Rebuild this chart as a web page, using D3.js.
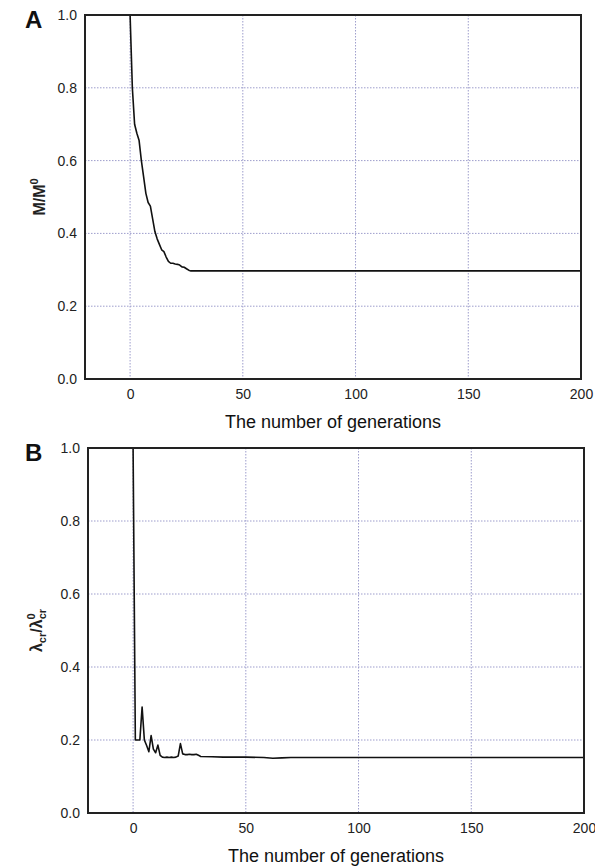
<!DOCTYPE html>
<html>
<head>
<meta charset="utf-8">
<script src="https://cdn.jsdelivr.net/npm/d3@7"></script>
<style>
  html, body { margin: 0; padding: 0; background: #fff; }
  svg { display: block; font-family: "Liberation Sans", Arial, sans-serif; }
</style>
</head>
<body>
<svg id="chart" width="595" height="868"></svg>
<script>
// ---- data ----
const xTicks = [0, 50, 100, 150, 200];
const yTicks = [0.0, 0.2, 0.4, 0.6, 0.8, 1.0];
const xDomain = [-20, 200];
const yDomain = [0, 1];
const xTitle = "The number of generations";

// Panel A: M/M0 vs generations
const genA = [0, 1, 2, 3, 4, 5, 6, 7, 8, 9, 10, 11, 12, 13, 14, 15, 16, 17, 18, 19, 20,
              21, 22, 23, 24, 25, 26, 27, 30, 40, 60, 100, 150, 200];
const valA = [1.0, 0.80, 0.70, 0.675, 0.655, 0.60, 0.555, 0.51, 0.485, 0.475, 0.44,
              0.405, 0.385, 0.37, 0.355, 0.35, 0.335, 0.323, 0.318, 0.318, 0.316,
              0.315, 0.313, 0.308, 0.307, 0.303, 0.299, 0.297, 0.297, 0.297, 0.297, 0.297, 0.297, 0.297];

// Panel B: lambda_cr / lambda0_cr vs generations
const genB = [0, 1, 2, 3, 4, 5, 6, 7, 8, 9, 10, 11, 12, 13, 14, 15, 16, 17, 18, 19, 20,
              21, 22, 23, 24, 25, 26, 27, 28, 29, 30, 35, 40, 50, 58, 62, 66, 70, 80, 100, 150, 200];
const valB = [1.0, 0.20, 0.20, 0.20, 0.29, 0.20, 0.185, 0.168, 0.212, 0.175, 0.165,
              0.186, 0.158, 0.153, 0.152, 0.153, 0.152, 0.153, 0.152, 0.153, 0.156,
              0.19, 0.162, 0.16, 0.16, 0.161, 0.16, 0.16, 0.161, 0.158, 0.155, 0.154, 0.153, 0.153, 0.152, 0.150, 0.151, 0.152, 0.152, 0.152, 0.152, 0.152];

// ---- layout ----
const panels = [
  { label: "A", gens: genA, vals: valA, left: 85, right: 581, top: 15, bottom: 379, titleX: 45 },
  { label: "B", gens: genB, vals: valB, left: 88, right: 584, top: 448, bottom: 813, titleX: 42 }
];

const svg = d3.select("#chart");
const gridColor = "#9d9dcc";
const frameColor = "#222";

panels.forEach((p, idx) => {
  const x = d3.scaleLinear().domain(xDomain).range([p.left, p.right]);
  const y = d3.scaleLinear().domain(yDomain).range([p.bottom, p.top]);
  const g = svg.append("g");

  // grid
  g.selectAll(".vg").data(xTicks.filter(t => t > xDomain[0] && t < xDomain[1]))
    .enter().append("line")
    .attr("x1", d => x(d)).attr("x2", d => x(d))
    .attr("y1", p.top).attr("y2", p.bottom)
    .attr("stroke", gridColor).attr("stroke-width", 1)
    .attr("stroke-dasharray", "1.5,1.5");
  g.selectAll(".hg").data(yTicks.filter(t => t > yDomain[0] && t < yDomain[1]))
    .enter().append("line")
    .attr("x1", p.left).attr("x2", p.right)
    .attr("y1", d => y(d)).attr("y2", d => y(d))
    .attr("stroke", gridColor).attr("stroke-width", 1)
    .attr("stroke-dasharray", "1.5,1.5");

  // line
  const pts = p.gens.map((gv, i) => [gv, p.vals[i]]);
  g.append("path")
    .datum(pts)
    .attr("fill", "none")
    .attr("stroke", "#111")
    .attr("stroke-width", 1.6)
    .attr("stroke-linejoin", "round")
    .attr("d", d3.line().x(d => x(d[0])).y(d => y(d[1])));

  // frame
  g.append("rect")
    .attr("x", p.left).attr("y", p.top)
    .attr("width", p.right - p.left).attr("height", p.bottom - p.top)
    .attr("fill", "none").attr("stroke", frameColor).attr("stroke-width", 2);

  // axes (labels only)
  const xa = g.append("g").attr("transform", `translate(0,${p.bottom})`)
    .call(d3.axisBottom(x).tickValues(xTicks).tickSize(0).tickPadding(10).tickFormat(d3.format("d")));
  xa.select(".domain").remove();
  xa.selectAll("text").attr("font-size", 14).attr("fill", "#222").attr("font-family", "Liberation Sans, Arial, sans-serif");

  const ya = g.append("g").attr("transform", `translate(${p.left},0)`)
    .call(d3.axisLeft(y).tickValues(yTicks).tickSize(0).tickPadding(8).tickFormat(d3.format(".1f")));
  ya.select(".domain").remove();
  ya.selectAll("text").attr("font-size", 14).attr("fill", "#222").attr("font-family", "Liberation Sans, Arial, sans-serif");

  // x title
  g.append("text")
    .attr("x", (p.left + p.right) / 2)
    .attr("y", p.bottom + 49)
    .attr("text-anchor", "middle")
    .attr("font-size", 18)
    .attr("fill", "#111")
    .text(xTitle);

  // panel label
  g.append("text")
    .attr("x", 25).attr("y", p.top + 13)
    .attr("font-size", 24).attr("font-weight", "bold").attr("fill", "#111")
    .text(p.label);

  // y title
  const cy = (p.top + p.bottom) / 2;
  const yt = g.append("text")
    .attr("transform", `translate(${p.titleX},${cy}) rotate(-90)`)
    .attr("text-anchor", "middle")
    .attr("font-size", 16).attr("font-weight", "bold").attr("fill", "#222");
  if (idx === 0) {
    yt.append("tspan").text("M/M");
    yt.append("tspan").attr("font-size", 11).attr("dy", -7).text("0");
  } else {
    yt.append("tspan").text("λ");
    yt.append("tspan").attr("font-size", 11).attr("dy", 4).text("cr");
    yt.append("tspan").attr("dy", -4).text("/λ");
    yt.append("tspan").attr("font-size", 11).attr("dy", -7).text("0");
    yt.append("tspan").attr("font-size", 11).attr("dx", -6).attr("dy", 11).text("cr");
  }
});
</script>
</body>
</html>
